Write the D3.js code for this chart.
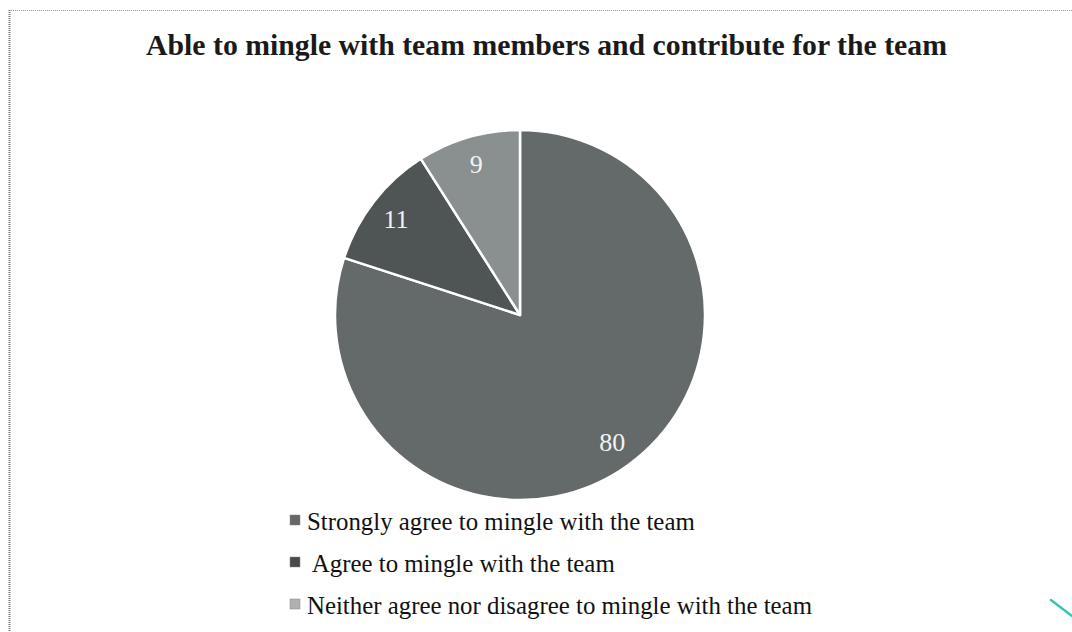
<!DOCTYPE html>
<html><head><meta charset="utf-8">
<script src="https://cdn.jsdelivr.net/npm/d3@7"></script>
<style>body{margin:0;background:#fff;}svg{display:block;}</style>
</head><body>
<svg id="chart" width="1072" height="632"></svg>
<script>
const title = "Able to mingle with team members and contribute for the team";
const categories = ["Strongly agree to mingle with the team", " Agree to mingle with the team", "Neither agree nor disagree to mingle with the team"];
const values = [80, 11, 9];
const sliceColors = ["#646a69", "#4f5554", "#8a908f"];
const legendColors = ["#676767", "#4a4a4a", "#b0b0b0"];

const svg = d3.select("#chart");

// frame (dotted borders)
svg.append("line").attr("x1", 9).attr("x2", 1072).attr("y1", 10.5).attr("y2", 10.5)
  .attr("stroke", "#9a9a9a").attr("stroke-width", 1).attr("stroke-dasharray", "1,1");
svg.append("line").attr("x1", 9.5).attr("x2", 9.5).attr("y1", 10).attr("y2", 632)
  .attr("stroke", "#777", ).attr("stroke-width", 2).attr("stroke-dasharray", "1,1");

// title
const t = svg.append("text").attr("x", 546.5).attr("y", 55)
  .attr("text-anchor", "middle")
  .attr("font-family", "'Liberation Serif', 'Times New Roman', serif")
  .attr("font-weight", "bold").attr("font-size", 24).attr("fill", "#1a1a1a")
  .text(title);
const tw = t.node().getComputedTextLength();
t.attr("font-size", 24 * 801 / tw);

// pie
const cx = 520, cy = 315, r = 185;
const pie = d3.pie().sort(null).value(d => d)(values);
const arc = d3.arc().innerRadius(0).outerRadius(r);
const labelArc = d3.arc().innerRadius(157).outerRadius(157);
const g = svg.append("g").attr("transform", `translate(${cx},${cy})`);
g.selectAll("path").data(pie).join("path")
  .attr("d", arc)
  .attr("fill", (d, i) => sliceColors[i])
  .attr("stroke", "#ffffff").attr("stroke-width", 2.5).attr("stroke-linejoin", "round");
g.selectAll("text").data(pie).join("text")
  .attr("transform", d => `translate(${labelArc.centroid(d)})`)
  .attr("text-anchor", "middle").attr("dy", "0.35em")
  .attr("font-family", "'Liberation Serif', serif")
  .attr("font-size", 26).attr("fill", "#f2f2f2")
  .text(d => d.data);

// legend
const legend = svg.append("g");
const baselines = [530, 572, 614];
const texts = [];
categories.forEach((c, i) => {
  legend.append("rect").attr("x", 290).attr("y", baselines[i] - 15).attr("width", 10).attr("height", 10)
    .attr("fill", legendColors[i]).attr("stroke", "#888").attr("stroke-width", 0.5);
  texts.push(legend.append("text").attr("x", 307).attr("y", baselines[i])
    .attr("font-family", "'Liberation Serif', 'Times New Roman', serif")
    .attr("font-size", 21).attr("fill", "#111")
    .attr("xml:space", "preserve").style("white-space", "pre")
    .text(c));
});
const lw = texts[0].node().getComputedTextLength();
const fs = 21 * 388 / lw;
texts.forEach(tx => tx.attr("font-size", fs));

// stray teal pen stroke at bottom right
svg.append("line").attr("x1", 1051).attr("y1", 600).attr("x2", 1072).attr("y2", 616)
  .attr("stroke", "#2fc9ad").attr("stroke-width", 2.5).attr("stroke-linecap", "round");
</script>
</body></html>
